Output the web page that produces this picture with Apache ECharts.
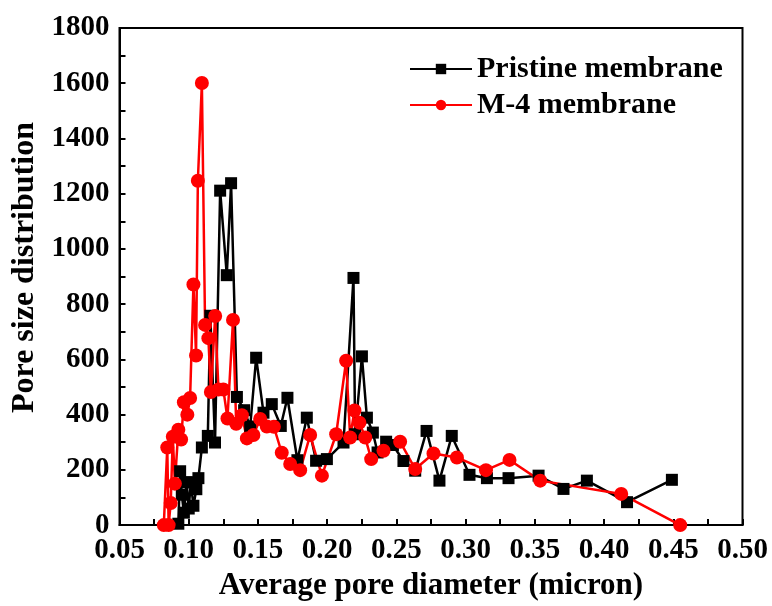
<!DOCTYPE html>
<html><head><meta charset="utf-8">
<script src="https://cdn.jsdelivr.net/npm/echarts@6/dist/echarts.min.js"></script>
<style>html,body{margin:0;padding:0;background:#fff}#c{width:772px;height:606px}</style>
</head><body><div id="c"></div>
<script>
var pristineX = [0.0925,0.0938,0.095,0.0965,0.0985,0.1,0.1015,0.1034,0.1055,0.107,0.1095,0.1138,0.1156,0.119,0.1227,0.1275,0.1306,0.1348,0.14,0.1444,0.1487,0.154,0.16,0.1665,0.1713,0.1785,0.1853,0.192,0.1998,0.2118,0.219,0.2202,0.2251,0.2287,0.233,0.2364,0.2426,0.2475,0.2551,0.2636,0.2718,0.2811,0.29,0.3028,0.3154,0.331,0.3527,0.3707,0.3876,0.4166,0.449];
var pristineY = [5,195,110,45,155,60,155,70,130,170,281,323,758,299,1211,905,1238,464,416,357,606,407,438,359,461,235,389,233,239,299,895,329,611,389,335,263,302,290,232,197,341,161,323,182,170,170,179,131,161,83,164];
var m4X = [0.082,0.0845,0.0855,0.087,0.0885,0.09,0.0925,0.0945,0.0965,0.099,0.101,0.1034,0.1053,0.1066,0.1095,0.1118,0.1142,0.116,0.1191,0.1215,0.125,0.128,0.132,0.1343,0.1384,0.142,0.1467,0.1516,0.1564,0.1615,0.1672,0.1733,0.1805,0.1877,0.1962,0.2065,0.2137,0.2166,0.2197,0.2233,0.2275,0.2318,0.2407,0.2527,0.2636,0.2768,0.2937,0.3147,0.3317,0.3539,0.4124,0.455];
var m4Y = [0,281,0,80,320,150,345,310,445,400,460,871,614,1247,1601,725,677,482,757,491,491,386,743,367,398,314,326,384,357,356,262,221,199,326,179,329,595,317,415,371,317,239,269,302,203,259,245,199,236,161,113,0];
var seriesNames = ['Pristine membrane','M-4 membrane'];
var xAxisTitle = 'Average pore diameter (micron)';
var yAxisTitle = 'Pore size distribution';

function pairs(xs, ys){ return xs.map(function(x,i){return [x, ys[i]];}); }
var font = '"Liberation Serif","Times New Roman",serif';
var chart = echarts.init(document.getElementById('c'));
chart.setOption({
  animation:false,
  grid:{left:119.5,right:29.5,top:28,bottom:78,show:true,borderColor:'#000',borderWidth:2},
  legend:{
    left:404, top:49, orient:'vertical', itemGap:6, itemWidth:62, itemHeight:13,
    textStyle:{fontFamily:font,fontWeight:'bold',fontSize:30,color:'#000'},
    data:seriesNames
  },
  xAxis:{
    type:'value', min:0.05, max:0.5, interval:0.05,
    name:xAxisTitle, nameLocation:'middle', nameGap:42,
    nameTextStyle:{fontFamily:font,fontWeight:'bold',fontSize:31,color:'#000'},
    axisLine:{lineStyle:{color:'#000',width:2}},
    axisTick:{inside:true,length:6,lineStyle:{color:'#000',width:2}},
    minorTick:{show:true,splitNumber:2,length:6,lineStyle:{color:'#000',width:2}},
    splitLine:{show:false},
    axisLabel:{fontFamily:font,fontWeight:'bold',fontSize:29,color:'#000',margin:11,
      formatter:function(v){return v.toFixed(2);}}
  },
  yAxis:{
    type:'value', min:0, max:1800, interval:200,
    name:yAxisTitle, nameLocation:'middle', nameGap:76,
    nameTextStyle:{fontFamily:font,fontWeight:'bold',fontSize:32,color:'#000',padding:[0,0,0,18]},
    axisLine:{lineStyle:{color:'#000',width:2}},
    axisTick:{inside:true,length:6,lineStyle:{color:'#000',width:2}},
    minorTick:{show:true,splitNumber:2,length:6,lineStyle:{color:'#000',width:2}},
    splitLine:{show:false},
    axisLabel:{fontFamily:font,fontWeight:'bold',fontSize:29,color:'#000',margin:10,
      formatter:function(v){return String(v);}}
  },
  series:[
    {name:seriesNames[0], type:'line', data:pairs(pristineX,pristineY),
     symbol:'rect', symbolSize:12, color:'#000',
     lineStyle:{color:'#000',width:2.5}, itemStyle:{color:'#000'}},
    {name:seriesNames[1], type:'line', data:pairs(m4X,m4Y),
     symbol:'circle', symbolSize:14, color:'#ff0000',
     lineStyle:{color:'#ff0000',width:2.5}, itemStyle:{color:'#ff0000'}}
  ]
});
</script></body></html>
